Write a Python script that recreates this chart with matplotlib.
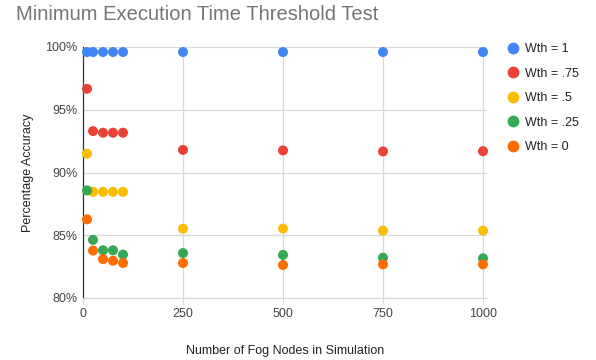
import matplotlib
matplotlib.use("Agg")
import matplotlib.pyplot as plt
from matplotlib.ticker import FuncFormatter
from matplotlib.lines import Line2D

plt.rcParams['font.family'] = ['Liberation Sans', 'DejaVu Sans']

nodes = [10, 25, 50, 75, 100, 250, 500, 750, 1000]
wth_1 = [99.6, 99.6, 99.6, 99.6, 99.6, 99.6, 99.6, 99.6, 99.6]
wth_075 = [96.67, 93.3, 93.17, 93.17, 93.17, 91.8, 91.76, 91.68, 91.7]
wth_05 = [91.5, 88.46, 88.46, 88.46, 88.46, 85.52, 85.53, 85.37, 85.37]
wth_025 = [88.57, 84.63, 83.8, 83.8, 83.46, 83.58, 83.43, 83.21, 83.16]
wth_0 = [86.27, 83.78, 83.1, 82.97, 82.79, 82.79, 82.63, 82.68, 82.68]

series = [
    ("Wth = 1", wth_1, "#4285F4"),
    ("Wth = .75", wth_075, "#EA4335"),
    ("Wth = .5", wth_05, "#FBBC04"),
    ("Wth = .25", wth_025, "#34A853"),
    ("Wth = 0", wth_0, "#FF6D01"),
]
x_ticks = [0, 250, 500, 750, 1000]
y_ticks = [80, 85, 90, 95, 100]

fig = plt.figure(figsize=(5.96, 3.6), dpi=100)
ax = fig.add_axes([83 / 596, 1 - 298 / 360, (487 - 83) / 596, (298 - 47) / 360])

for name, vals, col in series:
    ax.scatter(nodes, vals, s=52, color=col, edgecolors='none', zorder=3, clip_on=False)

ax.set_xlim(0, 1010)
ax.set_ylim(80, 100)
ax.set_xticks(x_ticks)
ax.set_yticks(y_ticks)
ax.yaxis.set_major_formatter(FuncFormatter(lambda v, p: f"{int(v)}%"))
ax.grid(True, color='#d9d9d9', linewidth=0.9, zorder=0)
for s in ['top', 'right']:
    ax.spines[s].set_visible(False)
ax.spines['left'].set_color('#333333')
ax.spines['left'].set_linewidth(0.9)
ax.spines['bottom'].set_color('#d9d9d9')
ax.spines['bottom'].set_linewidth(0.9)
ax.tick_params(axis='y', length=0, pad=4, labelsize=9, labelcolor='#444444')
ax.tick_params(axis='x', length=4, color='#d9d9d9', pad=3, labelsize=9, labelcolor='#444444')

ax.set_xlabel("Number of Fog Nodes in Simulation", fontsize=9, color='#222222', labelpad=18)
ax.set_ylabel("Percentage Accuracy", fontsize=9, color='#222222', labelpad=8)

fig.text(16 / 596, 1 - 14 / 360, "Minimum Execution Time Threshold Test",
         fontsize=14.5, color='#757575', ha='left', va='center')

handles = [Line2D([0], [0], marker='o', linestyle='none', markersize=8.5,
                  markerfacecolor=col, markeredgecolor='none') for _, _, col in series]
labels = [name for name, _, _ in series]
fig.legend(handles, labels, loc='upper left', bbox_to_anchor=(494 / 596, 1 - 32 / 360),
           frameon=False, fontsize=9, labelspacing=1.0, handletextpad=0.4,
           handlelength=1.2, labelcolor='#222222')

fig.savefig("out.png", dpi=100)
